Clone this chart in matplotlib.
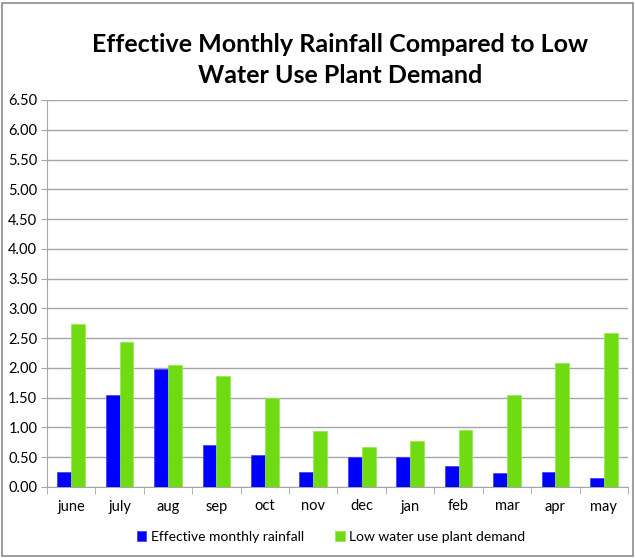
import matplotlib
matplotlib.use("Agg")
import matplotlib.pyplot as plt
import numpy as np
from matplotlib.patches import Rectangle

months = ["june", "july", "aug", "sep", "oct", "nov", "dec", "jan", "feb", "mar", "apr", "may"]
rainfall = [0.26, 1.54, 1.99, 0.71, 0.53, 0.25, 0.51, 0.50, 0.35, 0.24, 0.25, 0.15]
demand = [2.74, 2.43, 2.05, 1.86, 1.50, 0.94, 0.68, 0.78, 0.96, 1.55, 2.09, 2.59]
yticks = [0.0, 0.5, 1.0, 1.5, 2.0, 2.5, 3.0, 3.5, 4.0, 4.5, 5.0, 5.5, 6.0, 6.5]

plt.rcParams['font.family'] = ['Lato', 'DejaVu Sans']

fig = plt.figure(figsize=(6.35, 5.58), dpi=100)
ax = fig.add_axes([47/635, 1-487/558, (628-47)/635, (487-100)/558])

x = np.arange(len(months))
w = 0.285
ax.bar(x - w/2, rainfall, w, color='#0000FF', edgecolor='#3A3AFF', linewidth=0.5,
       label='Effective monthly rainfall', zorder=3)
ax.bar(x + w/2, demand, w, color='#70DA12', edgecolor='#8FE84A', linewidth=0.5,
       label='Low water use plant demand', zorder=3)

ax.set_xlim(-0.5, len(months) - 0.5)
ax.set_ylim(0, 6.5)
ax.set_yticks(yticks)
ax.set_yticklabels([f"{v:.2f}" for v in yticks], fontsize=10.5)
ax.yaxis.grid(True, color='#A6A6A6', linewidth=1, zorder=0)
ax.set_axisbelow(True)

ax.set_xticks(x)
ax.set_xticklabels(months, fontsize=10.5)
ax.tick_params(axis='x', which='major', length=0, pad=9)
ax.set_xticks(np.arange(-0.5, len(months)), minor=True)
ax.tick_params(axis='x', which='minor', length=5, color='#A6A6A6', direction='out')
ax.tick_params(axis='y', length=4, color='#A6A6A6', pad=3)

for s in ['top', 'right']:
    ax.spines[s].set_visible(False)
ax.spines['left'].set_color('#A6A6A6')
ax.spines['bottom'].set_color('#A6A6A6')

fig.text(340/635, 1-60/558, "Effective Monthly Rainfall Compared to Low\nWater Use Plant Demand",
         ha='center', va='center', fontsize=18, fontweight='bold', linespacing=1.4)

fig.legend(loc='center', bbox_to_anchor=(331/635, 1-537/558), ncol=2, frameon=False,
           fontsize=10, handlelength=0.7, handleheight=0.7, columnspacing=2.2, handletextpad=0.35)

fig.patches.append(Rectangle((2/635, 2/558), 631/635, 553/558, transform=fig.transFigure,
                             fill=False, edgecolor='#8C8C8C', linewidth=1.2))

fig.savefig("out.png", dpi=100)
